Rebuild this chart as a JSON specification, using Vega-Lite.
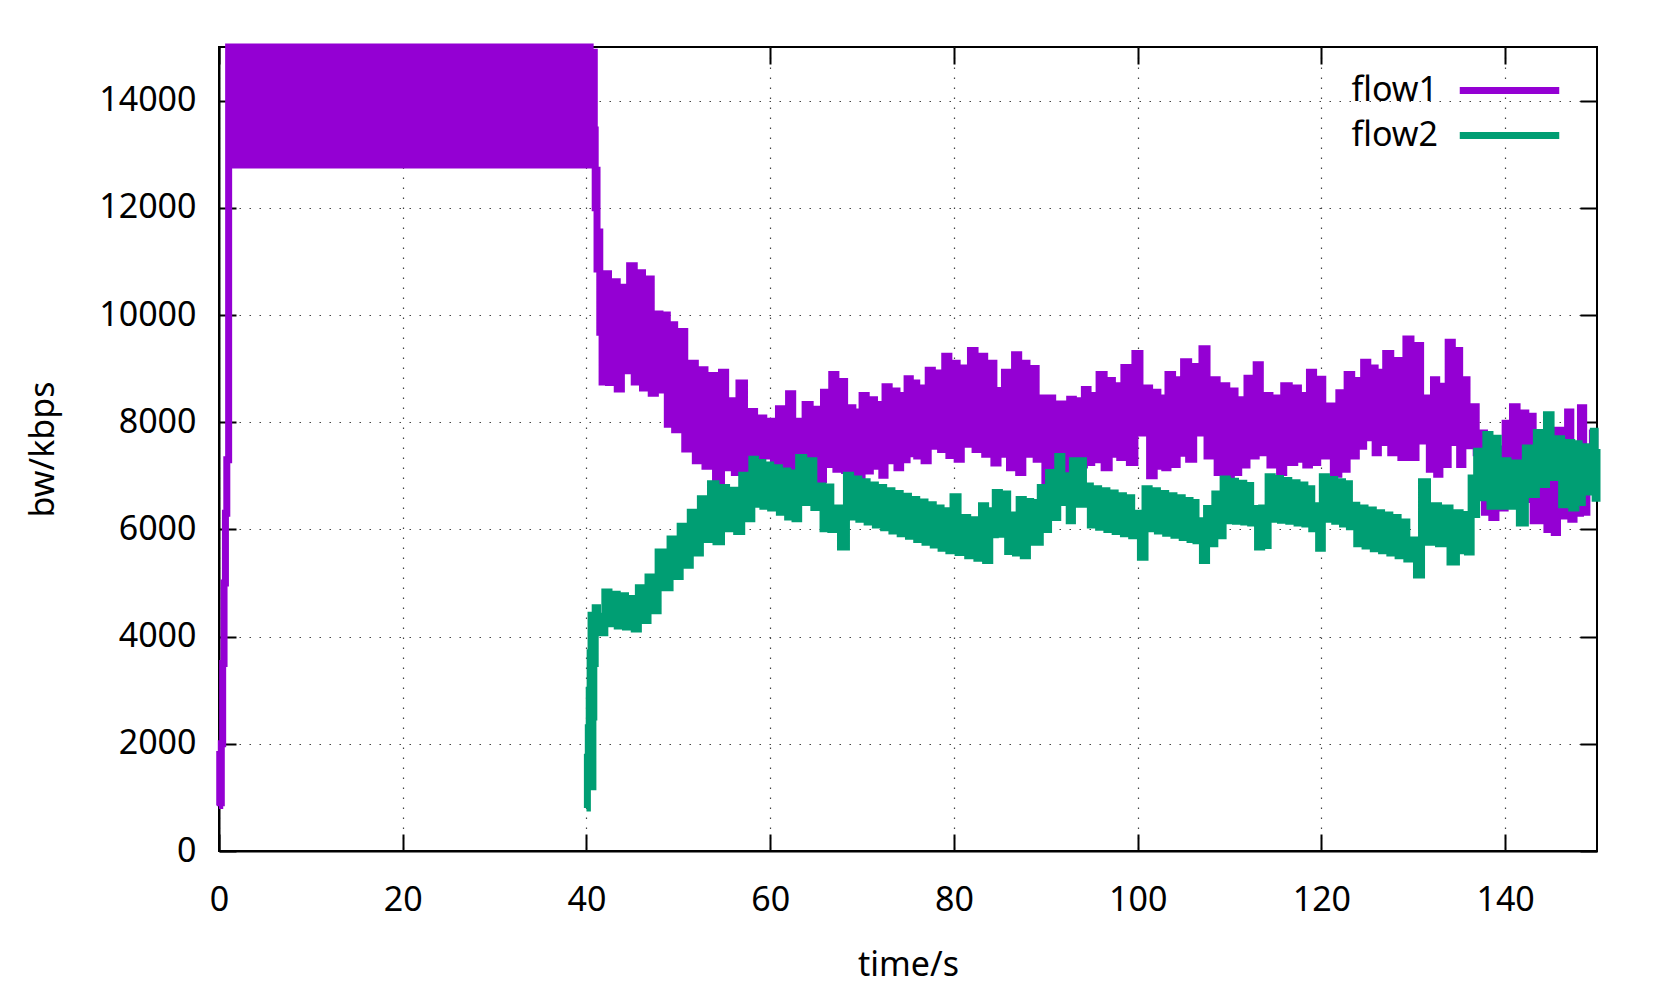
{
"$schema": "https://vega.github.io/schema/vega-lite/v6.json",
"width": 1378, "height": 804,
"autosize": {"type": "none"},
"padding": {"left": 219, "top": 47, "right": 64, "bottom": 146},
"background": "white",
"config": {
 "font": "Noto Sans",
 "view": {"stroke": "black", "strokeWidth": 2},
 "axis": {"labelFontSize": 34, "labelColor": "black", "titleFontSize": 34, "titleFontWeight": "normal", "titleColor": "black", "labelFont": "Noto Sans", "titleFont": "Noto Sans", "domainColor": "black", "domainWidth": 2, "tickColor": "black", "tickWidth": 2, "tickSize": -17, "gridColor": "#444444", "gridWidth": 1.2, "gridDash": [1.5, 8.5], "labelFlush": false, "labelOverlap": false}
},
"resolve": {"axis": {"x": "independent", "y": "independent"}},
"layer": [
{
"data": {"values": [
{"t":0,"v":850},{"t":0.08,"v":1800},{"t":0.16,"v":900},{"t":0.25,"v":2000},{"t":0.4,"v":3500},{"t":0.55,"v":5000},{"t":0.7,"v":6300},{"t":0.85,"v":7300},{"t":1.05,"v":15000},{"t":1.15,"v":13450},{"t":1.3,"v":15000},
{"t":1.6,"v":12800},{"t":2.1,"v":15000},{"t":2.6,"v":12800},{"t":3.1,"v":15000},{"t":3.6,"v":12800},{"t":4.1,"v":15000},{"t":4.6,"v":12800},{"t":5.1,"v":15000},{"t":5.6,"v":12800},{"t":6.1,"v":15000},{"t":6.6,"v":12800},{"t":7.1,"v":15000},{"t":7.6,"v":12800},{"t":8.1,"v":15000},{"t":8.6,"v":12800},{"t":9.1,"v":15000},{"t":9.6,"v":12800},{"t":10.1,"v":15000},{"t":10.6,"v":12800},{"t":11.1,"v":15000},{"t":11.6,"v":12800},{"t":12.1,"v":15000},{"t":12.6,"v":12800},{"t":13.1,"v":15000},{"t":13.6,"v":12800},{"t":14.1,"v":15000},{"t":14.6,"v":12800},{"t":15.1,"v":15000},{"t":15.6,"v":12800},{"t":16.1,"v":15000},{"t":16.6,"v":12800},{"t":17.1,"v":15000},{"t":17.6,"v":12800},{"t":18.1,"v":15000},{"t":18.6,"v":12800},{"t":19.1,"v":15000},{"t":19.6,"v":12800},{"t":20.1,"v":15000},{"t":20.6,"v":12800},{"t":21.1,"v":15000},{"t":21.6,"v":12800},{"t":22.1,"v":15000},{"t":22.6,"v":12800},{"t":23.1,"v":15000},{"t":23.6,"v":12800},{"t":24.1,"v":15000},{"t":24.6,"v":12800},{"t":25.1,"v":15000},{"t":25.6,"v":12800},{"t":26.1,"v":15000},{"t":26.6,"v":12800},{"t":27.1,"v":15000},{"t":27.6,"v":12800},{"t":28.1,"v":15000},{"t":28.6,"v":12800},{"t":29.1,"v":15000},{"t":29.6,"v":12800},{"t":30.1,"v":15000},{"t":30.6,"v":12800},{"t":31.1,"v":15000},{"t":31.6,"v":12800},{"t":32.1,"v":15000},{"t":32.6,"v":12800},{"t":33.1,"v":15000},{"t":33.6,"v":12800},{"t":34.1,"v":15000},{"t":34.6,"v":12800},{"t":35.1,"v":15000},{"t":35.6,"v":12800},{"t":36.1,"v":15000},{"t":36.6,"v":12800},{"t":37.1,"v":15000},{"t":37.6,"v":12800},{"t":38.1,"v":15000},{"t":38.6,"v":12800},{"t":39.1,"v":15000},{"t":39.6,"v":12800},{"t":40.1,"v":15000},
{"t":40.4,"v":12800},{"t":40.55,"v":14900},{"t":40.85,"v":13450},{"t":40.95,"v":12000},{"t":41.05,"v":12700},{"t":41.15,"v":10860},{"t":41.3,"v":11550},{"t":41.45,"v":9680},{"t":41.55,"v":10200},{"t":41.7,"v":8750},
{"t":41.9,"v":10770},{"t":42.4,"v":8740},{"t":42.9,"v":10620},{"t":43.35,"v":8620},{"t":43.8,"v":10520},{"t":44.25,"v":8960},{"t":44.7,"v":10920},{"t":45.2,"v":8750},{"t":45.65,"v":10790},{"t":46.1,"v":8640},{"t":46.6,"v":10670},{"t":47.05,"v":8540},{"t":47.5,"v":10020},{"t":48.0,"v":8600},{"t":48.5,"v":10000},{"t":48.8,"v":7960},{"t":49.1,"v":9820},{"t":49.6,"v":7860},{"t":50.1,"v":9690},{"t":50.7,"v":7500},{"t":51.3,"v":9100},{"t":51.85,"v":7280},{"t":52.4,"v":8980},{"t":52.9,"v":7180},{"t":53.4,"v":8870},{"t":54.05,"v":6750},{"t":54.7,"v":8930},{"t":55.15,"v":7150},{"t":55.6,"v":8400},{"t":56.1,"v":7060},{"t":56.6,"v":8730},{"t":57.2,"v":7030},{"t":57.8,"v":8200},{"t":58.3,"v":7240},{"t":58.8,"v":8080},{"t":59.3,"v":7370},{"t":59.8,"v":8020},{"t":60.35,"v":7180},{"t":60.9,"v":8250},{"t":61.45,"v":7120},{"t":62.0,"v":8530},{"t":62.45,"v":7000},{"t":62.9,"v":8020},{"t":63.35,"v":7240},{"t":63.8,"v":8330},{"t":64.35,"v":7000},{"t":64.9,"v":8240},{"t":65.35,"v":6930},{"t":65.8,"v":8560},{"t":66.25,"v":7210},{"t":66.7,"v":8890},{"t":67.15,"v":7120},{"t":67.6,"v":8760},{"t":68.1,"v":7100},{"t":68.6,"v":8270},{"t":69.0,"v":6900},{"t":69.4,"v":8190},{"t":69.7,"v":6940},{"t":70.0,"v":8500},{"t":70.45,"v":7090},{"t":70.9,"v":8420},{"t":71.35,"v":7180},{"t":71.8,"v":8330},{"t":72.15,"v":7010},{"t":72.5,"v":8660},{"t":72.95,"v":7280},{"t":73.4,"v":8580},{"t":73.8,"v":7150},{"t":74.2,"v":8500},{"t":74.55,"v":7300},{"t":74.9,"v":8810},{"t":75.25,"v":7410},{"t":75.6,"v":8730},{"t":75.95,"v":7370},{"t":76.3,"v":8640},{"t":76.75,"v":7280},{"t":77.2,"v":8970},{"t":77.65,"v":7550},{"t":78.1,"v":8920},{"t":78.55,"v":7490},{"t":79.0,"v":9230},{"t":79.45,"v":7380},{"t":79.9,"v":9100},{"t":80.35,"v":7310},{"t":80.8,"v":9010},{"t":81.3,"v":7590},{"t":81.8,"v":9340},{"t":82.3,"v":7490},{"t":82.8,"v":9230},{"t":83.35,"v":7400},{"t":83.9,"v":9100},{"t":84.35,"v":7240},{"t":84.8,"v":8590},{"t":85.15,"v":7400},{"t":85.5,"v":8930},{"t":86.05,"v":7150},{"t":86.6,"v":9260},{"t":87.05,"v":7060},{"t":87.5,"v":9100},{"t":87.95,"v":7400},{"t":88.4,"v":9000},{"t":88.95,"v":7310},{"t":89.5,"v":8450},{"t":89.9,"v":6840},{"t":90.3,"v":8450},{"t":90.75,"v":7100},{"t":91.2,"v":8340},{"t":91.9,"v":6500},{"t":92.6,"v":8430},{"t":93.0,"v":7250},{"t":93.4,"v":8400},{"t":93.8,"v":7200},{"t":94.2,"v":8610},{"t":94.6,"v":7250},{"t":95.0,"v":8500},{"t":95.4,"v":7300},{"t":95.8,"v":8890},{"t":96.35,"v":7150},{"t":96.9,"v":8780},{"t":97.25,"v":7400},{"t":97.6,"v":8680},{"t":98.05,"v":7340},{"t":98.5,"v":9020},{"t":99.1,"v":7250},{"t":99.7,"v":9280},{"t":100.25,"v":7800},{"t":100.8,"v":8640},{"t":101.3,"v":7000},{"t":101.8,"v":8560},{"t":102.2,"v":7180},{"t":102.6,"v":8450},{"t":102.95,"v":7150},{"t":103.3,"v":8890},{"t":103.8,"v":7210},{"t":104.3,"v":8790},{"t":104.65,"v":7420},{"t":105.0,"v":9130},{"t":105.55,"v":7310},{"t":106.1,"v":9040},{"t":106.55,"v":7800},{"t":107.0,"v":9370},{"t":107.55,"v":7370},{"t":108.1,"v":8790},{"t":108.65,"v":7060},{"t":109.2,"v":8680},{"t":109.7,"v":6940},{"t":110.2,"v":8580},{"t":110.6,"v":7060},{"t":111.0,"v":8420},{"t":111.45,"v":7200},{"t":111.9,"v":8820},{"t":112.4,"v":7370},{"t":112.9,"v":9070},{"t":113.35,"v":7430},{"t":113.8,"v":8500},{"t":114.4,"v":7200},{"t":115.0,"v":8450},{"t":115.45,"v":7060},{"t":115.9,"v":8680},{"t":116.5,"v":7250},{"t":117.1,"v":8640},{"t":117.5,"v":7310},{"t":117.9,"v":8500},{"t":118.3,"v":7200},{"t":118.7,"v":8930},{"t":119.15,"v":7250},{"t":119.6,"v":8800},{"t":120.15,"v":7370},{"t":120.7,"v":8300},{"t":121.3,"v":7030},{"t":121.9,"v":8550},{"t":122.35,"v":7120},{"t":122.8,"v":8890},{"t":123.3,"v":7370},{"t":123.8,"v":8780},{"t":124.2,"v":7550},{"t":124.6,"v":9120},{"t":125.05,"v":7710},{"t":125.5,"v":9010},{"t":125.85,"v":7430},{"t":126.2,"v":8930},{"t":126.6,"v":7620},{"t":127.0,"v":9280},{"t":127.55,"v":7430},{"t":128.1,"v":9150},{"t":128.65,"v":7340},{"t":129.2,"v":9550},{"t":129.75,"v":7340},{"t":130.3,"v":9430},{"t":130.8,"v":7650},{"t":131.3,"v":8450},{"t":131.75,"v":7120},{"t":132.2,"v":8790},{"t":132.55,"v":7030},{"t":132.9,"v":8670},{"t":133.35,"v":7210},{"t":133.8,"v":9490},{"t":134.25,"v":7620},{"t":134.7,"v":9340},{"t":135.05,"v":7210},{"t":135.4,"v":8790},{"t":135.85,"v":7560},{"t":136.3,"v":8290},{"t":136.85,"v":7430},{"t":137.4,"v":7800},{"t":137.75,"v":6320},{"t":138.1,"v":6900},{"t":138.55,"v":6220},{"t":139.0,"v":7500},{"t":139.5,"v":6400},{"t":140.0,"v":7980},{"t":140.4,"v":6560},{"t":140.8,"v":8290},{"t":141.3,"v":6500},{"t":141.8,"v":8170},{"t":142.25,"v":6560},{"t":142.7,"v":8110},{"t":143.05,"v":6160},{"t":143.4,"v":6870},{"t":143.75,"v":6160},{"t":144.1,"v":7000},{"t":144.55,"v":6000},{"t":145.0,"v":7000},{"t":145.35,"v":5940},{"t":145.7,"v":7850},{"t":146.25,"v":6250},{"t":146.8,"v":8190},{"t":147.15,"v":6190},{"t":147.5,"v":7500},{"t":147.85,"v":6300},{"t":148.2,"v":8270},{"t":148.55,"v":6320},{"t":148.9,"v":7370},{"t":149.2,"v":6870},{"t":149.5,"v":7800},{"t":149.75,"v":7000},{"t":150,"v":7000}
]},
"mark": {"type": "line", "interpolate": "step-after", "strokeWidth": 7},
"encoding": {
 "x": {"field": "t", "type": "quantitative", "scale": {"domain": [0, 150], "nice": false, "zero": false},
   "axis": {"orient": "bottom", "values": [0,20,40,60,80,100,120,140], "format": "d", "title": "time/s", "labelPadding": 49, "titlePadding": 31, "grid": true}},
 "y": {"field": "v", "type": "quantitative", "scale": {"domain": [0, 15000], "nice": false},
   "axis": {"orient": "left", "values": [0,2000,4000,6000,8000,10000,12000,14000], "format": "d", "title": "bw/kbps", "labelPadding": 40, "titlePadding": 38, "grid": true}},
 "color": {"datum": "flow1", "type": "nominal",
   "scale": {"domain": ["flow1", "flow2"], "range": ["#9400d3", "#009e73"]},
   "legend": {"orient": "none", "legendX": 1270, "legendY": 23, "title": null, "labelFontSize": 34, "labelFont": "Noto Sans", "labelColor": "black", "symbolType": "M -3 0 L 3 0", "symbolSize": 1100, "symbolStrokeWidth": 7, "labelAlign": "right", "labelOffset": -92, "rowPadding": 7, "padding": 0}}
}
},
{
"data": {"values": [
{"t":40.0,"v":800},{"t":40.1,"v":1750},{"t":40.2,"v":2300},{"t":40.3,"v":3000},{"t":40.4,"v":3700},{"t":40.5,"v":4400},{"t":40.6,"v":1200},{"t":40.7,"v":2500},{"t":40.8,"v":3500},{"t":40.95,"v":4540},{"t":41.2,"v":4070},
{"t":41.4,"v":4380},{"t":41.7,"v":4070},{"t":42.0,"v":4830},{"t":42.45,"v":4240},{"t":42.9,"v":4790},{"t":43.35,"v":4200},{"t":43.8,"v":4760},{"t":44.25,"v":4180},{"t":44.7,"v":4710},{"t":45.2,"v":4140},{"t":45.65,"v":4910},{"t":46.2,"v":4300},{"t":46.7,"v":5110},{"t":47.25,"v":4480},{"t":47.8,"v":5580},{"t":48.45,"v":4910},{"t":49.1,"v":5820},{"t":49.65,"v":5120},{"t":50.2,"v":6060},{"t":50.75,"v":5330},{"t":51.3,"v":6320},{"t":51.85,"v":5560},{"t":52.4,"v":6570},{"t":52.95,"v":5810},{"t":53.5,"v":6850},{"t":54.1,"v":5770},{"t":54.7,"v":6780},{"t":55.25,"v":6010},{"t":55.8,"v":6730},{"t":56.35,"v":5960},{"t":56.9,"v":7010},{"t":57.45,"v":6200},{"t":58.0,"v":7310},{"t":58.4,"v":6470},{"t":58.8,"v":7250},{"t":59.2,"v":6430},{"t":59.6,"v":7200},{"t":60.05,"v":6400},{"t":60.5,"v":7150},{"t":61.0,"v":6320},{"t":61.5,"v":7090},{"t":61.9,"v":6230},{"t":62.3,"v":7050},{"t":62.7,"v":6200},{"t":63.1,"v":7340},{"t":63.65,"v":6500},{"t":64.2,"v":7280},{"t":64.75,"v":6410},{"t":65.3,"v":6810},{"t":65.75,"v":6010},{"t":66.2,"v":6790},{"t":66.6,"v":6000},{"t":67.0,"v":6400},{"t":67.65,"v":5670},{"t":68.3,"v":7010},{"t":68.75,"v":6230},{"t":69.2,"v":6940},{"t":69.65,"v":6190},{"t":70.1,"v":6890},{"t":70.55,"v":6140},{"t":71.0,"v":6830},{"t":71.45,"v":6080},{"t":71.9,"v":6780},{"t":72.35,"v":6030},{"t":72.8,"v":6720},{"t":73.25,"v":5970},{"t":73.7,"v":6670},{"t":74.15,"v":5920},{"t":74.6,"v":6620},{"t":75.05,"v":5870},{"t":75.5,"v":6560},{"t":75.95,"v":5810},{"t":76.4,"v":6510},{"t":76.85,"v":5760},{"t":77.3,"v":6460},{"t":77.75,"v":5710},{"t":78.2,"v":6400},{"t":78.6,"v":5650},{"t":79.0,"v":6350},{"t":79.45,"v":5600},{"t":79.9,"v":6610},{"t":80.45,"v":5570},{"t":81.0,"v":6220},{"t":81.5,"v":5510},{"t":82.0,"v":6180},{"t":82.5,"v":5460},{"t":83.0,"v":6440},{"t":83.45,"v":5420},{"t":83.9,"v":6350},{"t":84.2,"v":5900},{"t":84.5,"v":6690},{"t":84.95,"v":5910},{"t":85.4,"v":6660},{"t":85.85,"v":5590},{"t":86.3,"v":6270},{"t":86.7,"v":5560},{"t":87.1,"v":6560},{"t":87.55,"v":5510},{"t":88.0,"v":6520},{"t":88.35,"v":5760},{"t":88.7,"v":6500},{"t":89.05,"v":5760},{"t":89.4,"v":6780},{"t":89.85,"v":6000},{"t":90.3,"v":7060},{"t":90.8,"v":6220},{"t":91.3,"v":7360},{"t":91.75,"v":6500},{"t":92.2,"v":7000},{"t":92.55,"v":6160},{"t":92.9,"v":7280},{"t":93.35,"v":6470},{"t":93.8,"v":7280},{"t":94.1,"v":6470},{"t":94.4,"v":6810},{"t":94.85,"v":6080},{"t":95.3,"v":6760},{"t":95.75,"v":6040},{"t":96.2,"v":6720},{"t":96.65,"v":6000},{"t":97.1,"v":6680},{"t":97.55,"v":5960},{"t":98.0,"v":6630},{"t":98.45,"v":5920},{"t":98.9,"v":6590},{"t":99.35,"v":5880},{"t":99.8,"v":6300},{"t":100.3,"v":5480},{"t":100.8,"v":6760},{"t":101.25,"v":6010},{"t":101.7,"v":6720},{"t":102.15,"v":5970},{"t":102.6,"v":6670},{"t":103.05,"v":5930},{"t":103.5,"v":6630},{"t":103.95,"v":5890},{"t":104.4,"v":6590},{"t":104.85,"v":5850},{"t":105.3,"v":6540},{"t":105.7,"v":5810},{"t":106.1,"v":6500},{"t":106.35,"v":5790},{"t":106.6,"v":6160},{"t":107.05,"v":5420},{"t":107.5,"v":6390},{"t":107.95,"v":5730},{"t":108.4,"v":6660},{"t":108.85,"v":5880},{"t":109.3,"v":6940},{"t":109.75,"v":6160},{"t":110.2,"v":6900},{"t":110.65,"v":6150},{"t":111.1,"v":6860},{"t":111.55,"v":6140},{"t":112.0,"v":6820},{"t":112.3,"v":6120},{"t":112.6,"v":6390},{"t":113.05,"v":5670},{"t":113.5,"v":6400},{"t":113.85,"v":5700},{"t":114.2,"v":6980},{"t":114.65,"v":6190},{"t":115.1,"v":6950},{"t":115.55,"v":6170},{"t":116.0,"v":6910},{"t":116.45,"v":6150},{"t":116.9,"v":6870},{"t":117.35,"v":6120},{"t":117.8,"v":6830},{"t":118.2,"v":6100},{"t":118.6,"v":6760},{"t":118.95,"v":6010},{"t":119.3,"v":6440},{"t":119.7,"v":5650},{"t":120.1,"v":6980},{"t":120.55,"v":6190},{"t":121.0,"v":6930},{"t":121.45,"v":6150},{"t":121.9,"v":6890},{"t":122.3,"v":6100},{"t":122.7,"v":6850},{"t":123.05,"v":6050},{"t":123.4,"v":6450},{"t":123.85,"v":5730},{"t":124.3,"v":6400},{"t":124.75,"v":5690},{"t":125.2,"v":6360},{"t":125.65,"v":5640},{"t":126.1,"v":6310},{"t":126.55,"v":5600},{"t":127.0,"v":6270},{"t":127.45,"v":5560},{"t":127.9,"v":6220},{"t":128.35,"v":5510},{"t":128.8,"v":6140},{"t":129.3,"v":5450},{"t":129.8,"v":5800},{"t":130.35,"v":5150},{"t":130.9,"v":6890},{"t":131.55,"v":5760},{"t":132.2,"v":6440},{"t":132.75,"v":5730},{"t":133.3,"v":6400},{"t":134.0,"v":5390},{"t":134.7,"v":6310},{"t":135.1,"v":5600},{"t":135.5,"v":6280},{"t":135.9,"v":5580},{"t":136.3,"v":6960},{"t":136.6,"v":6280},{"t":136.9,"v":7460},{"t":137.4,"v":6590},{"t":137.9,"v":7770},{"t":138.35,"v":6430},{"t":138.8,"v":7700},{"t":139.25,"v":6430},{"t":139.7,"v":7280},{"t":140.3,"v":6430},{"t":140.9,"v":7240},{"t":141.55,"v":6120},{"t":142.2,"v":7520},{"t":142.8,"v":6650},{"t":143.4,"v":7810},{"t":143.95,"v":6840},{"t":144.5,"v":8140},{"t":145.0,"v":6970},{"t":145.5,"v":7690},{"t":146.15,"v":6460},{"t":146.8,"v":7620},{"t":147.25,"v":6400},{"t":147.7,"v":7600},{"t":148.05,"v":6500},{"t":148.4,"v":7540},{"t":149.0,"v":6700},{"t":149.6,"v":7830},{"t":149.8,"v":6580},{"t":150,"v":7500}
]},
"mark": {"type": "line", "interpolate": "step-after", "strokeWidth": 7},
"encoding": {
 "x": {"field": "t", "type": "quantitative",
   "axis": {"orient": "top", "values": [0,20,40,60,80,100,120,140], "labels": false, "title": null, "grid": false, "domain": false}},
 "y": {"field": "v", "type": "quantitative",
   "axis": {"orient": "right", "values": [0,2000,4000,6000,8000,10000,12000,14000], "labels": false, "title": null, "grid": false, "domain": false}},
 "color": {"datum": "flow2", "type": "nominal"}
}
}
]
}
